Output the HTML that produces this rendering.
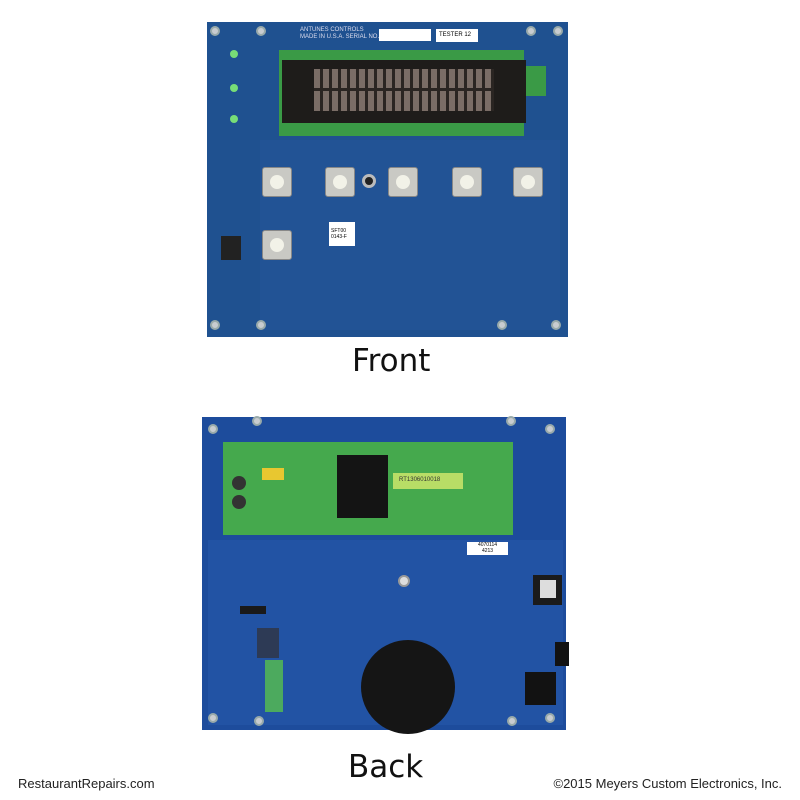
<!DOCTYPE html>
<html><head><style>
body{margin:0;width:800px;height:800px;background:#fff;position:relative;overflow:hidden;font-family:"Liberation Sans",sans-serif}
div{position:absolute;box-sizing:border-box}
.btn{width:30px;height:30px;background:#c9c9c4;border:1px solid #888;border-radius:3px}
.btn:after{content:"";position:absolute;left:7px;top:7px;width:14px;height:14px;border-radius:50%;background:#f2f2e8}
.scr{width:10px;height:10px;border-radius:50%;background:#c8ccd0;border:2px solid #9aa}
.t{color:#111;font-size:31px;font-family:"DejaVu Sans",sans-serif}
.f{font-size:13px;color:#222;top:776px}
</style></head><body>
<!-- front -->
<div style="left:207px;top:22px;width:361px;height:315px;background:#1f5190"></div>
<div style="left:260px;top:140px;width:300px;height:190px;background:#24559a;opacity:.6"></div>
<div style="left:379px;top:29px;width:52px;height:12px;background:#fff"></div>
<div style="left:436px;top:29px;width:42px;height:13px;background:#fff;font-size:6px;padding:3px 3px;color:#000;white-space:nowrap;line-height:7px">TESTER 12</div>
<div style="left:300px;top:27px;font-size:6px;color:#dde;line-height:7px">ANTUNES CONTROLS<br>MADE IN U.S.A. SERIAL NO.</div>
<div style="left:279px;top:50px;width:245px;height:86px;background:#3a9a46"></div>
<div style="left:282px;top:60px;width:244px;height:63px;background:#1e1c1a"></div>
<div style="left:314px;top:69px;width:180px;height:42px;background:repeating-linear-gradient(90deg,#7a6d66 0 6px,#2a2522 6px 9px)"></div>
<div style="left:314px;top:88px;width:180px;height:3px;background:#2a2522"></div>
<div style="left:526px;top:66px;width:20px;height:30px;background:#3a9a46"></div>
<div class="btn" style="left:262px;top:167px"></div>
<div class="btn" style="left:325px;top:167px"></div>
<div class="btn" style="left:388px;top:167px"></div>
<div class="btn" style="left:452px;top:167px"></div>
<div class="btn" style="left:513px;top:167px"></div>
<div class="btn" style="left:262px;top:230px"></div>
<div style="left:329px;top:222px;width:26px;height:24px;background:#fff;font-size:5px;color:#000;padding:6px 2px">SFT00<br>0143-F</div>
<div style="left:362px;top:174px;width:14px;height:14px;border-radius:50%;background:#222;border:3px solid #bbb"></div>
<div style="left:221px;top:236px;width:20px;height:24px;background:#222"></div>
<div style="left:230px;top:50px;width:8px;height:8px;border-radius:50%;background:#7d7"></div>
<div style="left:230px;top:84px;width:8px;height:8px;border-radius:50%;background:#7d7"></div>
<div style="left:230px;top:115px;width:8px;height:8px;border-radius:50%;background:#7d7"></div>
<div class="scr" style="left:210px;top:26px"></div><div class="scr" style="left:256px;top:26px"></div>
<div class="scr" style="left:526px;top:26px"></div><div class="scr" style="left:553px;top:26px"></div>
<div class="scr" style="left:210px;top:320px"></div><div class="scr" style="left:256px;top:320px"></div>
<div class="scr" style="left:497px;top:320px"></div><div class="scr" style="left:551px;top:320px"></div>
<div class="t" style="left:352px;top:343px">Front</div>
<!-- back -->
<div style="left:202px;top:417px;width:364px;height:313px;background:#1d4c9c"></div>
<div style="left:208px;top:540px;width:355px;height:185px;background:#2557a8;opacity:.7"></div>
<div style="left:223px;top:442px;width:290px;height:93px;background:#45a94d"></div>
<div style="left:337px;top:455px;width:51px;height:63px;background:#141414"></div>
<div style="left:393px;top:473px;width:70px;height:16px;background:#b8dd66;font-size:6px;padding:4px 6px;color:#333">RT1306010018</div>
<div style="left:262px;top:468px;width:22px;height:12px;background:#e8c730"></div>
<div style="left:232px;top:476px;width:14px;height:14px;border-radius:50%;background:#333"></div>
<div style="left:232px;top:495px;width:14px;height:14px;border-radius:50%;background:#333"></div>
<div style="left:467px;top:542px;width:41px;height:13px;background:#fff;font-size:5px;color:#000;text-align:center;line-height:6px">4070114<br>4213</div>
<div style="left:398px;top:575px;width:12px;height:12px;border-radius:50%;background:#ddd;border:2px solid #999"></div>
<div style="left:361px;top:640px;width:94px;height:94px;border-radius:50%;background:#151515"></div>
<div style="left:265px;top:660px;width:18px;height:52px;background:#4caa5e"></div>
<div style="left:257px;top:628px;width:22px;height:30px;background:#2d3a55"></div>
<div style="left:240px;top:606px;width:26px;height:8px;background:#1a1a1a"></div>
<div style="left:533px;top:575px;width:29px;height:30px;background:#1b1b1b"></div>
<div style="left:540px;top:580px;width:16px;height:18px;background:#ddd"></div>
<div style="left:525px;top:672px;width:31px;height:33px;background:#121212"></div>
<div style="left:555px;top:642px;width:14px;height:24px;background:#121212"></div>
<div class="scr" style="left:208px;top:424px"></div><div class="scr" style="left:252px;top:416px"></div>
<div class="scr" style="left:506px;top:416px"></div><div class="scr" style="left:545px;top:424px"></div>
<div class="scr" style="left:208px;top:713px"></div><div class="scr" style="left:254px;top:716px"></div>
<div class="scr" style="left:507px;top:716px"></div><div class="scr" style="left:545px;top:713px"></div>
<div class="t" style="left:348px;top:749px">Back</div>
<div class="f" style="left:18px">RestaurantRepairs.com</div>
<div class="f" style="right:18px">©2015 Meyers Custom Electronics, Inc.</div>
</body></html>
